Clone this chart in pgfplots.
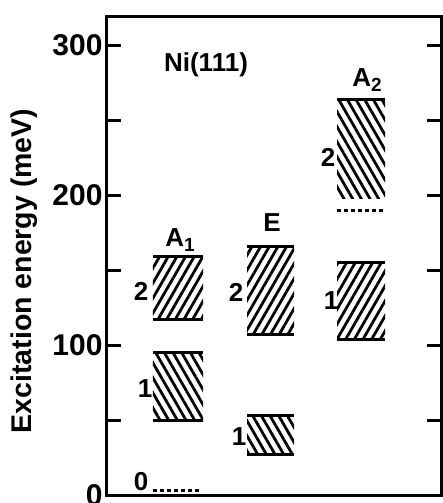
\documentclass[border=0pt]{standalone}
\usepackage{fontspec}
\setmainfont{Liberation Sans}
\usepackage{pgfplots}
\pgfplotsset{compat=1.18}
\usetikzlibrary{patterns.meta}
\newcommand{\band}[5]{%
  \addplot[draw=none, pattern={Lines[angle=#5,distance=7.5pt,line width=2.8pt]}, pattern color=black]
    coordinates {(#1,#3) (#2,#3) (#2,#4) (#1,#4)} -- cycle;
  \addplot[line width=3pt, black] coordinates {(#1,#4) (#2,#4)};
  \addplot[line width=3pt, black] coordinates {(#1,#3) (#2,#3)};
}
\newcommand{\lab}{\fontsize{26}{30}\selectfont\bfseries}
\newcommand{\sub}[1]{\raisebox{-0.35ex}{\fontsize{19}{20}\selectfont\bfseries #1}}
\begin{document}
\begin{tikzpicture}
\begin{axis}[name=ax,
  width=334pt, height=478pt, scale only axis,
  xmin=0, xmax=334, ymin=0, ymax=319,
  xtick=\empty,
  ytick={0,100,200,300}, minor ytick={50,150,250},
  tick align=inside, ytick pos=both, yticklabel pos=left,
  major tick length=14pt, minor tick length=14pt,
  axis line style={line width=3pt},
  every tick/.style={line width=3pt, black},
  tick label style={font=\fontsize{30}{32}\selectfont\bfseries},
  yticklabel style={xshift=-1pt},
  /pgf/number format/assume math mode=true,
  ylabel={Excitation energy (meV)},
  ylabel style={font=\fontsize{28.5}{30}\selectfont\bfseries, yshift=8pt, xshift=-15pt},
  clip=false]
% A1
\band{46}{96}{117}{159}{60}
\band{46}{96}{50}{95}{-60}
\addplot[line width=3pt, black, dash pattern=on 4pt off 3pt] coordinates {(46,3) (92,3)};
% E
\band{140}{187}{107}{166}{60}
\band{140}{187}{27}{53}{-60}
% A2
\addplot[draw=none, pattern={Lines[angle=-60,distance=7.5pt,line width=2.8pt]}, pattern color=black]
  coordinates {(230,198) (278,198) (278,264) (230,264)} -- cycle;
\addplot[line width=3pt, black] coordinates {(230,264) (278,264)};
\addplot[line width=2.5pt, black, dash pattern=on 4pt off 3pt] coordinates {(230,190) (278,190)};
\band{230}{278}{104}{155}{60}
% labels
\node[font=\lab] at (axis cs:99,287) {Ni(111)};
\node[font=\lab] at (axis cs:73,170) {A\sub{1}};
\node[font=\lab] at (axis cs:165,182) {E};
\node[font=\lab] at (axis cs:260,277) {A\sub{2}};
\node[font=\lab] at (axis cs:34,136) {2};
\node[font=\lab] at (axis cs:38,71) {1};
\node[font=\lab] at (axis cs:34,9) {0};
\node[font=\lab] at (axis cs:129,135) {2};
\node[font=\lab] at (axis cs:132,39) {1};
\node[font=\lab] at (axis cs:221,225) {2};
\node[font=\lab] at (axis cs:224,130) {1};
\end{axis}
\pgfresetboundingbox
\path ([shift={(-107pt,-8pt)}]ax.south west) rectangle ([shift={(1pt,17pt)}]ax.north east);
\end{tikzpicture}
\end{document}
